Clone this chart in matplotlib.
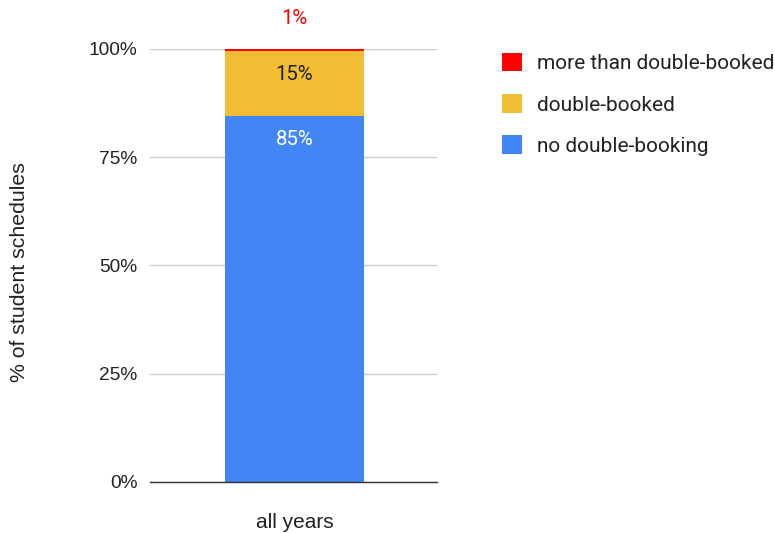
import matplotlib
matplotlib.use("Agg")
import matplotlib.pyplot as plt
from matplotlib.patches import Patch

plt.rcParams['font.family'] = ['Liberation Sans', 'DejaVu Sans']
ROBOTO = ['Roboto', 'DejaVu Sans']

categories = ["all years"]
series_names = ["no double-booking", "double-booked", "more than double-booked"]
values = {
    "no double-booking": [84.6],
    "double-booked": [15.0],
    "more than double-booked": [0.4],
}
labels = {
    "no double-booking": ["85%"],
    "double-booked": ["15%"],
    "more than double-booked": ["1%"],
}
colors = {
    "no double-booking": "#4285F4",
    "double-booked": "#F0BD33",
    "more than double-booked": "#FF0000",
}
label_colors = {
    "no double-booking": "white",
    "double-booked": "#222222",
    "more than double-booked": "#FF0000",
}
yticks = [0, 25, 50, 75, 100]
ytick_labels = ["0%", "25%", "50%", "75%", "100%"]

fig = plt.figure(figsize=(7.75, 5.33), dpi=100)
ax = fig.add_axes([150/775, 1-482/533, 287/775, (482-49)/533])

x = list(range(len(categories)))
bottom = [0.0]*len(categories)
for name in series_names:
    vals = values[name]
    ax.bar(x, vals, width=0.484, bottom=bottom, color=colors[name], zorder=3, linewidth=0)
    for i, v in enumerate(vals):
        top = bottom[i] + v
        if name == "more than double-booked":
            ax.annotate(labels[name][i], (x[i], top), xytext=(0, 22), textcoords='offset points',
                        ha='center', va='center', color=label_colors[name], fontsize=14.7,
                        family=ROBOTO)
        else:
            ax.annotate(labels[name][i], (x[i], top), xytext=(0, -17), textcoords='offset points',
                        ha='center', va='center', color=label_colors[name], fontsize=14.7,
                        family=ROBOTO)
    bottom = [b + v for b, v in zip(bottom, vals)]

ax.set_xlim(-0.5 - 0.003, 0.5 - 0.003)
ax.set_ylim(0, 100)
ax.set_yticks(yticks)
ax.set_yticklabels(ytick_labels, fontsize=13.8, color="#222222")
ax.set_xticks(x)
ax.set_xticklabels(categories, fontsize=15, color="#222222")
ax.tick_params(axis='both', length=0, pad=9)
ax.tick_params(axis='x', pad=22)
ax.yaxis.grid(True, color="#CCCCCC", linewidth=1, zorder=0)
for s in ["top", "right", "left"]:
    ax.spines[s].set_visible(False)
ax.spines["bottom"].set_color("#333333")
ax.spines["bottom"].set_linewidth(1)
ax.spines["bottom"].set_zorder(4)

fig.text(20/775, 1-272/533, "% of student schedules", rotation=90, ha='center', va='center',
         fontsize=15.3, color="#222222")

handles = [Patch(facecolor=colors[n], edgecolor='none', label=n) for n in reversed(series_names)]
leg = fig.legend(handles=handles, loc='upper left', bbox_to_anchor=(498/775, 1-49/533),
                 frameon=False, prop={'family': ROBOTO, 'size': 15}, handlelength=0.97,
                 handleheight=0.97, labelspacing=1.0, handletextpad=0.72, borderaxespad=0,
                 borderpad=0.2)
for t in leg.get_texts():
    t.set_color("#222222")

fig.savefig("out.png", dpi=100)
